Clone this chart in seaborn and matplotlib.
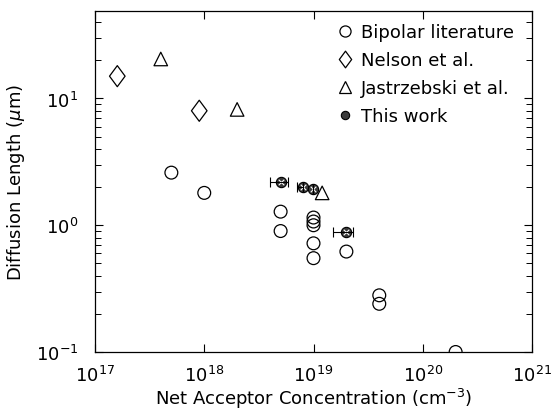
import matplotlib
matplotlib.use("Agg")
import matplotlib.pyplot as plt
import seaborn as sns
import numpy as np
import pandas as pd
from matplotlib.lines import Line2D
from matplotlib.path import Path

# --- data ---
bip_x = [5e17, 1e18, 5e18, 5e18, 1e19, 1e19, 1e19, 1e19, 1e19, 2e19, 4e19, 4e19, 2e20]
bip_y = [2.6, 1.8, 1.28, 0.9, 1.15, 1.07, 1.0, 0.72, 0.55, 0.62, 0.28, 0.24, 0.1]
nel_x = [1.6e17, 9e17]
nel_y = [15.0, 8.0]
jas_x = [4e17, 2e18, 1.2e19]
jas_y = [20.5, 8.2, 1.8]
tw_x = [5e18, 8e18, 9.8e18, 2e19]
tw_y = [2.2, 2.0, 1.92, 0.88]
tw_xlo = [4e18, 7e18, 9.8e18, 1.5e19]
tw_xhi = [5.9e18, 8e18, 9.8e18, 2.3e19]

labels = ["Bipolar literature", "Nelson et al.", "Jastrzebski et al.", "This work"]
xticks = [1e17, 1e18, 1e19, 1e20, 1e21]
yticks = [1e-1, 1e0, 1e1]

sns.set_style("ticks")
plt.rcParams['font.family'] = ['DejaVu Sans']
plt.rcParams['mathtext.fontset'] = 'dejavusans'
for k in ['text.color', 'axes.labelcolor', 'xtick.color', 'ytick.color', 'axes.edgecolor']:
    plt.rcParams[k] = 'black'

diamond = Path([(0, 1), (0.74, 0), (0, -1), (-0.74, 0), (0, 1)],
               [Path.MOVETO, Path.LINETO, Path.LINETO, Path.LINETO, Path.CLOSEPOLY])

fig = plt.figure(figsize=(5.51, 4.14), dpi=100)
ax = fig.add_axes([95/551, 61/414, 437/551, 341/414])

kw = dict(facecolor='none', edgecolor='black', linewidth=0.9, ax=ax, legend=False)
sns.scatterplot(x=bip_x, y=bip_y, marker='o', s=85, **kw)
sns.scatterplot(x=nel_x, y=nel_y, marker=diamond, s=230, **kw)
sns.scatterplot(x=jas_x, y=jas_y, marker='^', s=95, **kw)

xerr = [np.array(tw_x) - np.array(tw_xlo), np.array(tw_xhi) - np.array(tw_x)]
ax.errorbar(tw_x, tw_y, xerr=xerr, fmt='none', ecolor='black', elinewidth=0.8,
            capsize=3.5, capthick=0.8)
sns.scatterplot(x=tw_x, y=tw_y, marker='o', s=55, facecolor='#3a3a3a',
                edgecolor='black', linewidth=0.8, ax=ax, legend=False)
sns.scatterplot(x=tw_x, y=tw_y, marker='x', s=16, color='white',
                linewidth=0.8, ax=ax, legend=False)

ax.set_xscale('log')
ax.set_yscale('log')
ax.set_xlim(1e17, 1e21)
ax.set_ylim(1e-1, 49)
ax.set_xticks(xticks)
ax.set_yticks(yticks)
ax.xaxis.set_minor_locator(matplotlib.ticker.NullLocator())
ax.yaxis.set_minor_locator(matplotlib.ticker.LogLocator(base=10, subs=np.arange(2, 10)))
ax.yaxis.set_minor_formatter(matplotlib.ticker.NullFormatter())
ax.tick_params(which='both', direction='in', top=True, right=True, color='black',
               labelsize=13)
ax.tick_params(axis='x', pad=9)
ax.tick_params(axis='y', pad=12)
ax.tick_params(which='major', length=6, width=0.8)
ax.tick_params(which='minor', length=4, width=0.7)
for s in ax.spines.values():
    s.set_linewidth(0.9)
    s.set_color('black')

ax.set_xlabel("Net Acceptor Concentration (cm$^{-3}$)", fontsize=13, labelpad=1)
ax.set_ylabel(r"Diffusion Length ($\mu$m)", fontsize=13, labelpad=6)

handles = [
    Line2D([], [], ls='none', marker='o', mfc='none', mec='black', ms=8, mew=0.9),
    Line2D([], [], ls='none', marker=diamond, mfc='none', mec='black', ms=12, mew=0.9),
    Line2D([], [], ls='none', marker='^', mfc='none', mec='black', ms=8.5, mew=0.9),
    Line2D([], [], ls='none', marker='o', mfc='#3a3a3a', mec='black', ms=6, mew=0.8),
]
leg = ax.legend(handles, labels, loc='upper left', bbox_to_anchor=(0.54, 0.985),
                frameon=False, fontsize=13, handlelength=0.8, handletextpad=0.45,
                labelspacing=0.55, borderaxespad=0)

fig.savefig("out.png", dpi=100)
